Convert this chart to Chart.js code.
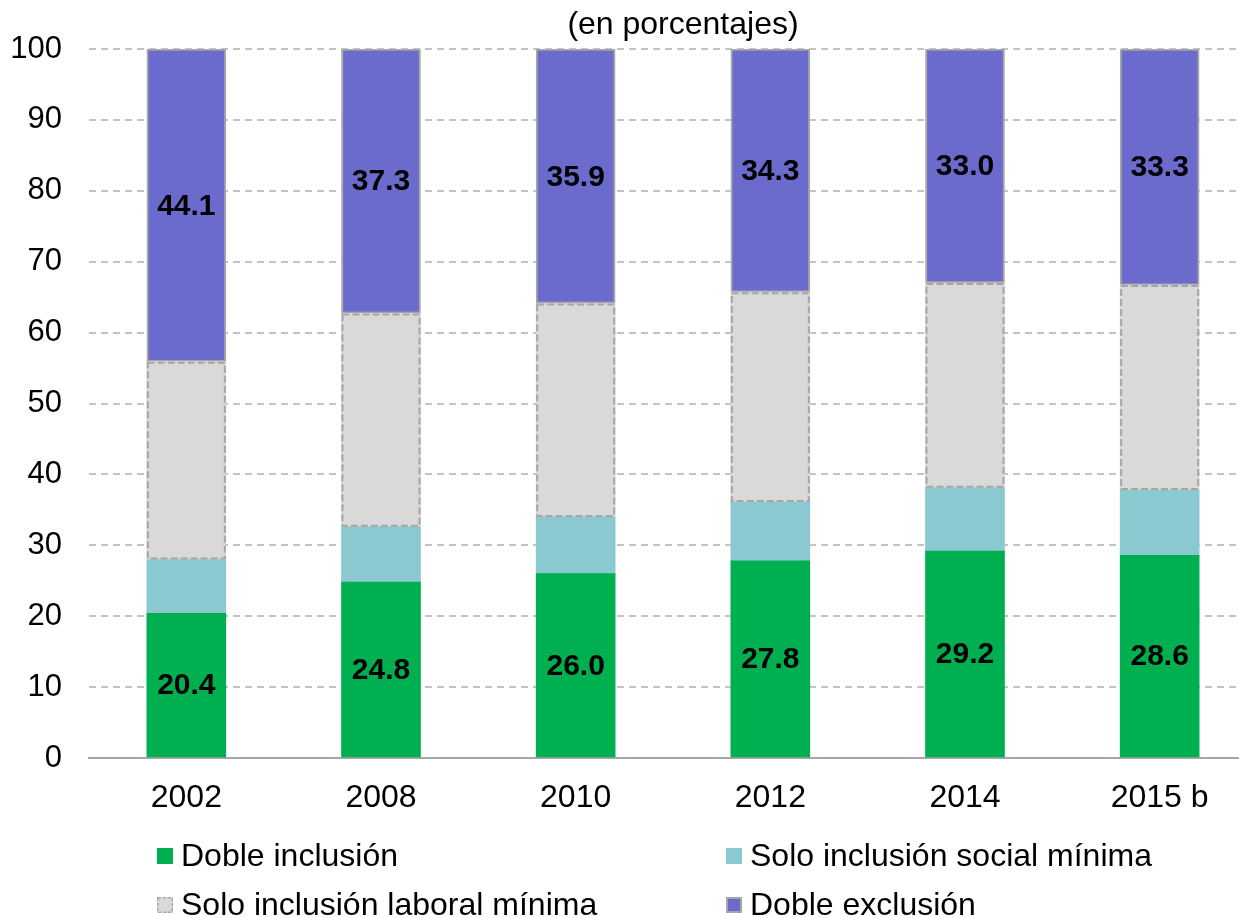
<!DOCTYPE html>
<html>
<head>
<meta charset="utf-8">
<script src="https://cdn.jsdelivr.net/npm/chart.js@4.4.0/dist/chart.umd.min.js"></script>
<style>
  html, body { margin: 0; padding: 0; background: #fff; overflow: hidden; }
  #wrap { width: 1270px; height: 918px; }
</style>
</head>
<body>
<div id="wrap"><canvas id="grafico" width="1270" height="918"></canvas></div>
<script>
const anios = ['2002', '2008', '2010', '2012', '2014', '2015 b'];
const dobleInclusion = [20.4, 24.8, 26.0, 27.8, 29.2, 28.6];
const soloSocial = [7.6, 7.8, 8.0, 8.3, 8.9, 9.2];
const soloLaboral = [27.9, 30.1, 30.1, 29.6, 28.9, 28.9];
const dobleExclusion = [44.1, 37.3, 35.9, 34.3, 33.0, 33.3];
const subtitulo = '(en porcentajes)';

const fuente = "'Liberation Sans', Arial, sans-serif";
const grisBorde = '#A6A6A6';

// etiquetas de valor, bordes punteados, subtitulo y leyenda
const extras = {
    id: 'extras',
    afterDatasetsDraw(chart) {
        const ctx = chart.ctx;
        ctx.save();
        // borde punteado de la serie gris
        const metaGris = chart.getDatasetMeta(2);
        ctx.strokeStyle = grisBorde;
        ctx.lineWidth = 2;
        ctx.setLineDash([7, 3]);
        metaGris.data.forEach(el => {
            const w = el.width;
            ctx.strokeRect(el.x - w / 2 + 1, el.y + 1, w - 2, el.base - el.y - 2);
        });
        ctx.setLineDash([]);

        ctx.fillStyle = '#000';
        ctx.font = `bold 30px ${fuente}`;
        ctx.textAlign = 'center';
        ctx.textBaseline = 'middle';
        [0, 3].forEach(i => {
            const meta = chart.getDatasetMeta(i);
            const valores = chart.data.datasets[i].data;
            meta.data.forEach((el, j) => {
                ctx.fillText(valores[j].toFixed(1), el.x, (el.y + el.base) / 2 + 1);
            });
        });
        ctx.restore();
    },
    afterDraw(chart) {
        const ctx = chart.ctx;
        ctx.save();
        ctx.fillStyle = '#000';
        ctx.font = `32px ${fuente}`;
        ctx.textAlign = 'center';
        ctx.textBaseline = 'alphabetic';
        ctx.fillText(subtitulo, 683, 34);

        const posiciones = [
            [157, 848], [157, 897], [726, 848], [726, 897]
        ];
        // orden: verde, gris, celeste, morado
        const orden = [0, 2, 1, 3];
        ctx.textAlign = 'left';
        orden.forEach((i, k) => {
            const ds = chart.data.datasets[i];
            const [x, y] = posiciones[k];
            ctx.fillStyle = ds.backgroundColor;
            ctx.fillRect(x, y, 16, 16);
            if (i === 2) {
                ctx.strokeStyle = grisBorde;
                ctx.lineWidth = 1.5;
                ctx.setLineDash([3, 2]);
                ctx.strokeRect(x + 0.75, y + 0.75, 14.5, 14.5);
                ctx.setLineDash([]);
            }
            if (i === 3) {
                ctx.strokeStyle = grisBorde;
                ctx.lineWidth = 2;
                ctx.strokeRect(x + 1, y + 1, 14, 14);
            }
            ctx.fillStyle = '#000';
            ctx.fillText(ds.label, x + 24, y + 18);
        });
        ctx.restore();
    }
};

new Chart(document.querySelector('#grafico'), {
    type: 'bar',
    data: {
        labels: anios,
        datasets: [
            { label: 'Doble inclusión', data: dobleInclusion, backgroundColor: '#00B050', borderWidth: 0 },
            { label: 'Solo inclusión social mínima', data: soloSocial, backgroundColor: '#89C9CF', borderWidth: 0 },
            { label: 'Solo inclusión laboral mínima', data: soloLaboral, backgroundColor: '#D9D9D9', borderWidth: 0 },
            { label: 'Doble exclusión', data: dobleExclusion, backgroundColor: '#6B6BCE',
              borderColor: grisBorde, borderWidth: 2, borderSkipped: false }
        ]
    },
    options: {
        responsive: false,
        animation: false,
        barThickness: 79,
        layout: { padding: { top: 49, right: 13, left: 0, bottom: 0 } },
        plugins: {
            legend: { display: false },
            tooltip: { enabled: false }
        },
        scales: {
            x: {
                stacked: true,
                grid: { display: false },
                border: { display: true, color: grisBorde, width: 2 },
                ticks: { color: '#000', font: { family: fuente, size: 32 }, padding: 13 },
                afterFit: (scale) => { scale.height = 160; }
            },
            y: {
                stacked: true,
                min: 0,
                max: 100,
                ticks: { stepSize: 10, color: '#000', font: { family: fuente, size: 31 }, padding: 27 },
                grid: { color: '#C4C4C4', lineWidth: 2, drawTicks: false },
                border: { display: false, dash: [7, 5] },
                afterFit: (scale) => { scale.width = 89; }
            }
        }
    },
    plugins: [extras]
});
</script>
</body>
</html>
